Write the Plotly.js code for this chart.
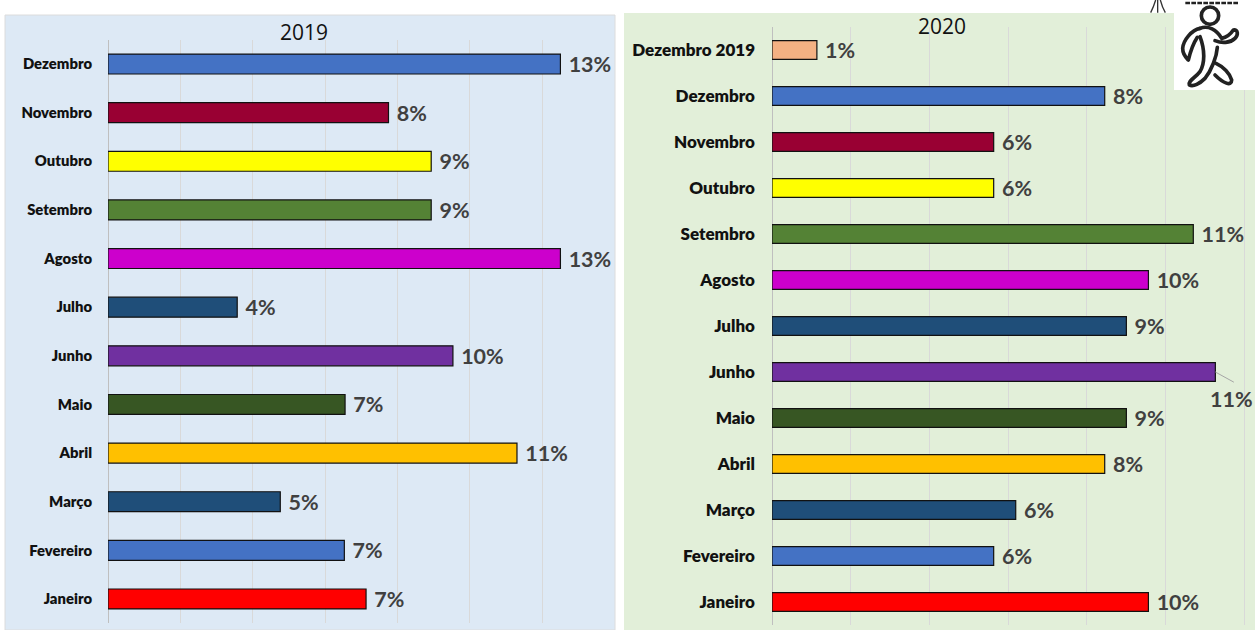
<!DOCTYPE html>
<html><head><meta charset="utf-8">
<script src="https://cdn.plot.ly/plotly-3.0.1.min.js"></script>
<style>html,body{margin:0;padding:0;background:#fff}#c{width:1255px;height:630px}</style>
</head><body><div id="c"></div>
<script>
var months2019 = ['Janeiro','Fevereiro','Março','Abril','Maio','Junho','Julho','Agosto','Setembro','Outubro','Novembro','Dezembro'];
var values2019 = [7.13,6.53,4.76,11.3,6.55,9.53,3.57,12.5,8.93,8.93,7.75,12.5];
var labels2019 = ['7%','7%','5%','11%','7%','10%','4%','13%','9%','9%','8%','13%'];
var colors2019 = ['#ff0000','#4472c4','#1f4e79','#ffc000','#375623','#7030a0','#1f4e79','#cc00cc','#548235','#ffff00','#990033','#4472c4'];

var months2020 = ['Janeiro','Fevereiro','Março','Abril','Maio','Junho','Julho','Agosto','Setembro','Outubro','Novembro','Dezembro','Dezembro 2019'];
var values2020 = [9.56,5.63,6.19,8.45,9.0,11.26,9.0,9.56,10.7,5.63,5.63,8.45,1.14];
var labels2020 = ['10%','6%','6%','8%','9%','','9%','10%','11%','6%','6%','8%','1%'];
var colors2020 = ['#ff0000','#4472c4','#1f4e79','#ffc000','#375623','#7030a0','#1f4e79','#cc00cc','#548235','#ffff00','#990033','#4472c4','#f4b183'];

var W = 1255, H = 630;
var FONT = 'Lato, "Open Sans", sans-serif';
function pad(a){return a.map(function(t){return t ? '\u00a0'+t : t;});}

var icon = "<svg xmlns='http://www.w3.org/2000/svg' width='345' height='270' viewBox='420 0 345 270'>"
 + "<rect x='522' y='0' width='243' height='270' fill='white'/>"
 + "<g fill='none' stroke='#222' stroke-width='11' stroke-linecap='round' stroke-linejoin='round'>"
 + "<circle cx='630' cy='47' r='26'/>"
 + "<path d='M600 85C625 75 650 90 665 115C680 112 690 105 700 90C715 88 715 105 705 115C690 130 665 130 645 122'/>"
 + "<path d='M600 85C575 90 550 120 548 145C548 165 560 175 565 180C570 160 580 130 592 112'/>"
 + "<path d='M600 110C615 150 615 190 600 215C585 235 565 240 568 255C580 262 600 250 615 235C635 210 650 170 652 142'/>"
 + "<path d='M648 190C670 200 690 220 695 240C695 260 670 250 645 225'/>"
 + "</g>"
 + "<path d='M556 9H714' stroke='#222' stroke-width='8' stroke-dasharray='14 4' fill='none'/>"
 + "<g fill='none' stroke='#333' stroke-width='4'><path d='M452 38C460 22 464 10 467 0'/><path d='M473 0V38'/><path d='M481 0C485 15 490 28 496 38'/></g>"
 + "</svg>";

var traces = [
 {type:'bar', orientation:'h', y:months2019, x:values2019, xaxis:'x', yaxis:'y',
  text:pad(labels2019), textposition:'outside', cliponaxis:false, constraintext:'none',
  textfont:{family:FONT,size:21.5,color:'#404040',weight:700},
  marker:{color:colors2019,line:{color:'#111',width:1.2}}, hoverinfo:'skip'},
 {type:'bar', orientation:'h', y:months2020, x:values2020, xaxis:'x2', yaxis:'y2',
  text:pad(labels2020), textposition:'outside', cliponaxis:false, constraintext:'none',
  textfont:{family:FONT,size:21.5,color:'#404040',weight:700},
  marker:{color:colors2020,line:{color:'#111',width:1.2}}, hoverinfo:'skip'}
];

function xa(l,r,max,anchor){return {domain:[l/W,r/W],range:[0,max],dtick:2,showticklabels:false,ticks:'',
  showgrid:true,gridcolor:'#d9d9d9',gridwidth:1,zeroline:true,zerolinecolor:'#bfbfbf',zerolinewidth:1,anchor:anchor,fixedrange:true};}
function ya(t,b,cats,size,standoff,anchor){return {domain:[1-b/H,1-t/H],type:'category',categoryorder:'array',categoryarray:cats,
  showgrid:false,zeroline:false,showline:false,ticks:'',ticklabelstandoff:standoff,anchor:anchor,
  tickfont:{family:FONT,size:size,color:'#111',weight:800},fixedrange:true};}

var layout = {
 width:W,height:H,margin:{l:0,r:0,t:0,b:0},paper_bgcolor:'#fff',plot_bgcolor:'rgba(0,0,0,0)',
 showlegend:false,bargap:0.59,
 xaxis:xa(108,610,13.87,'y'),
 yaxis:ya(39.7,623.3,months2019,14.8,15,'x'),
 xaxis2:xa(772,1250,12.14,'y2'),
 yaxis2:ya(27,625,months2020,17,16,'x2'),
 shapes:[
  {type:'rect',layer:'below',xref:'paper',yref:'paper',x0:5/W,x1:615/W,y0:0,y1:1-15/H,fillcolor:'#dde9f5',line:{color:'#dcdcdc',width:1}},
  {type:'rect',layer:'below',xref:'paper',yref:'paper',x0:624/W,x1:1,y0:0,y1:1-13/H,fillcolor:'#e2efd9',line:{width:0}}
 ],
 annotations:[
  {xref:'paper',yref:'paper',x:303.5/W,y:1-32/H,text:'2019',showarrow:false,xanchor:'center',yanchor:'middle',font:{family:'"Open Sans", sans-serif',size:21,color:'#111'}},
  {xref:'paper',yref:'paper',x:942/W,y:1-26/H,text:'2020',showarrow:false,xanchor:'center',yanchor:'middle',font:{family:'"Open Sans", sans-serif',size:21,color:'#111'}},
  {xref:'x2',yref:'y2',x:values2020[5],y:months2020[5],text:' ',showarrow:true,arrowhead:0,arrowwidth:1,arrowcolor:'#a6a6a6',
   ax:20,ay:11,font:{size:1}},
  {xref:'x2',yref:'y2',x:values2020[5],y:months2020[5],text:'11%',showarrow:false,xanchor:'center',yanchor:'middle',
   xshift:16,yshift:-27,font:{family:FONT,size:21.5,color:'#404040',weight:700}}
 ],
 images:[{source:'data:image/svg+xml;utf8,'+encodeURIComponent(icon),xref:'paper',yref:'paper',x:1140/W,y:1,sizex:115/W,sizey:90/H,xanchor:'left',yanchor:'top',sizing:'stretch',layer:'above'}]
};
Plotly.newPlot('c',traces,layout,{displayModeBar:false,staticPlot:true});
</script></body></html>
